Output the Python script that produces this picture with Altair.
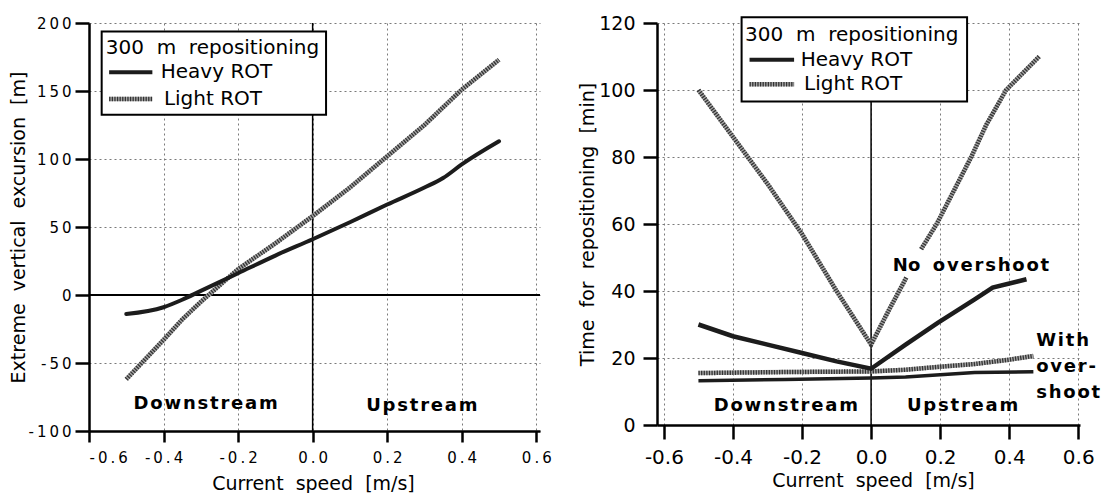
import altair as alt
import pandas as pd

FONT = "DejaVu Sans"
THIN = "\u2009"
HAIR = "\u200a"
NB = "\u00a0"

# ---------------- data: left panel (extreme vertical excursion, m) ----------------
ev_speed_heavy = [-0.5, -0.4, -0.35, -0.3, -0.2, -0.1, 0.0, 0.1, 0.2, 0.3, 0.35, 0.4, 0.5]
ev_heavy = [-14, -9, -3.5, 3, 16, 29, 41, 53.5, 66.5, 79, 86, 96, 113]
ev_speed_light = [-0.5, -0.4, -0.35, -0.3, -0.2, -0.1, 0.0, 0.1, 0.2, 0.3, 0.4, 0.5]
ev_light = [-62, -33, -18, -5, 19, 38, 58, 79, 102, 125, 151, 173]

# ---------------- data: right panel (time for repositioning, min) ----------------
tr_speed_heavy_no = [-0.5, -0.4, -0.3, -0.2, -0.1, 0.0, 0.1, 0.193, 0.3, 0.352, 0.45]
tr_heavy_no = [30, 26.5, 24, 21.5, 19, 16.8, 24, 30.5, 37.5, 41, 43.5]
tr_speed_light_no_a = [-0.5, -0.4, -0.3, -0.2, -0.1, 0.0, 0.05, 0.102]
tr_light_no_a = [100, 86, 72, 57, 40, 24, 34, 44]
tr_speed_light_no_b = [0.145, 0.19, 0.29, 0.333, 0.391, 0.487]
tr_light_no_b = [52.5, 60, 80, 89.5, 100, 110]
tr_speed_heavy_with = [-0.5, -0.25, 0.0, 0.1, 0.2, 0.3, 0.47]
tr_heavy_with = [13.2, 13.6, 14.0, 14.3, 15.0, 15.7, 15.9]
tr_speed_light_with = [-0.5, -0.25, 0.0, 0.1, 0.2, 0.3, 0.4, 0.47]
tr_light_with = [15.5, 15.8, 16.0, 16.5, 17.4, 18.2, 19.5, 20.6]

x_ticks = [-0.6, -0.4, -0.2, 0.0, 0.2, 0.4, 0.6]
ev_ticks = [-100, -50, 0, 50, 100, 150, 200]
tr_ticks = [0, 20, 40, 60, 80, 100, 120]

legend_title = f"300{NB}{NB}m{NB}{NB}repositioning"
legend_heavy = "Heavy ROT"
legend_light = "Light ROT"


def spaced(s, sep=HAIR):
    return sep.join(s)


# ---------------- tables ----------------
ev_heavy_df = pd.DataFrame({"speed": ev_speed_heavy, "value": ev_heavy})
ev_light_df = pd.DataFrame({"speed": ev_speed_light, "value": ev_light})

tr_heavy_no_df = pd.DataFrame({"speed": tr_speed_heavy_no, "value": tr_heavy_no})
tr_light_no_df = pd.concat([
    pd.DataFrame({"speed": tr_speed_light_no_a, "value": tr_light_no_a, "seg": "a"}),
    pd.DataFrame({"speed": tr_speed_light_no_b, "value": tr_light_no_b, "seg": "b"}),
])
tr_heavy_with_df = pd.DataFrame({"speed": tr_speed_heavy_with, "value": tr_heavy_with})
tr_light_with_df = pd.DataFrame({"speed": tr_speed_light_with, "value": tr_light_with})

# annotation text (positions in data units)
ev_notes = pd.DataFrame({
    "speed": [-0.287, 0.293],
    "value": [-80.5, -81.5],
    "label": [spaced("Downstream"), spaced("Upstream")],
})
tr_notes_c = pd.DataFrame({
    "speed": [-0.247, 0.265],
    "value": [5.8, 5.8],
    "label": [spaced("Downstream"), spaced("Upstream")],
})
tr_notes_l = pd.DataFrame({
    "speed": [0.063, 0.478, 0.478, 0.478],
    "value": [47.4, 25.0, 17.2, 9.6],
    "label": [f"No{NB}{NB}{spaced('overshoot')}", spaced("With"), spaced("over-"), spaced("shoot")],
})

HEAVY = "#1c1c1c"
LIGHT_BASE = "#a8a8a8"
LIGHT_DOT = "#333333"


def axis_common(**kw):
    base = dict(
        grid=True, gridColor="#7a7a7a", gridDash=[2, 3], gridWidth=1,
        domainColor="black", domainWidth=2.5, tickColor="black", tickWidth=2.5,
        labelColor="black", labelFont=FONT, titleFont=FONT, titleColor="black",
        titleFontWeight="normal", titleFontSize=19, titleBaseline="middle",
    )
    base.update(kw)
    return alt.Axis(**base)


# ================= LEFT PANEL =================
LW, LH = 451, 408
lx_scale = alt.Scale(domain=[-0.6, 0.61], nice=False, zero=False)
ly_scale = alt.Scale(domain=[-100, 200], nice=False, zero=False)

lx_axis = axis_common(
    values=x_ticks, tickSize=11, labelFontSize=15, labelPadding=8,
    labelExpr=f"join(split(replace(format(datum.value, '.1f'), '\u2212', '-'), ''), '{THIN}')",
    title=f"Current{NB}{NB}speed{NB}{NB}[m/s]", titleX=224, titleY=52,
)
ly_axis = axis_common(
    values=ev_ticks, tickSize=14, labelFontSize=15, labelPadding=4,
    labelExpr=f"join(split(replace(format(datum.value, 'd'), '\u2212', '-'), ''), '{THIN}')",
    title=f"Extreme{NB}{NB}vertical{NB}{NB}excursion{NB}{NB}[m]", titleX=-71, titleY=LH / 2,
)


def LX(field=None, datum=None):
    if datum is not None:
        return alt.X(datum=datum, scale=lx_scale, axis=lx_axis)
    return alt.X(field, type="quantitative", scale=lx_scale, axis=lx_axis)


def LY(field=None, datum=None):
    if datum is not None:
        return alt.Y(datum=datum, scale=ly_scale, axis=ly_axis)
    return alt.Y(field, type="quantitative", scale=ly_scale, axis=ly_axis)


one = pd.DataFrame({"k": [0]})

left_zero_h = alt.Chart(one).mark_rule(color="black", strokeWidth=2).encode(y=LY(datum=0))
left_zero_v = alt.Chart(one).mark_rule(color="black", strokeWidth=1.5).encode(x=LX(datum=0))
left_light_base = alt.Chart(ev_light_df).mark_line(color=LIGHT_BASE, strokeWidth=4.5).encode(
    x=LX("speed"), y=LY("value"))
left_light_dot = alt.Chart(ev_light_df).mark_line(color=LIGHT_DOT, strokeWidth=4.5, strokeDash=[1.3, 1.3]).encode(
    x=LX("speed"), y=LY("value"))
left_heavy = alt.Chart(ev_heavy_df).mark_line(color=HEAVY, strokeWidth=4, strokeCap="round",
                                               interpolate="monotone").encode(
    x=LX("speed"), y=LY("value"))
left_notes = alt.Chart(ev_notes).mark_text(font=FONT, fontSize=18, fontWeight="bold", color="black",
                                           align="center", baseline="middle").encode(
    x=LX("speed"), y=LY("value"), text="label:N")


def legend_layers(X, Y, box, title_pos, heavy_pos, light_pos, line_x):
    layers = []
    layers.append(alt.Chart(one).mark_rect(fill="white", stroke="black", strokeWidth=2).encode(
        x=X(datum=box[0]), x2=alt.datum(box[1]), y=Y(datum=box[2]), y2=alt.datum(box[3]),
    ))
    for (px, py, t) in [(title_pos[0], title_pos[1], legend_title),
                        (heavy_pos[0], heavy_pos[1], legend_heavy),
                        (light_pos[0], light_pos[1], legend_light)]:
        layers.append(alt.Chart(one).mark_text(font=FONT, fontSize=20, color="black", align="left",
                                               baseline="middle").encode(
            x=X(datum=px), y=Y(datum=py), text=alt.value(t),
        ))
    layers.append(alt.Chart(one).mark_rule(color=HEAVY, strokeWidth=4).encode(
        x=X(datum=line_x[0]), x2=alt.datum(line_x[1]), y=Y(datum=heavy_pos[1]),
    ))
    layers.append(alt.Chart(one).mark_rule(color=LIGHT_BASE, strokeWidth=4.5).encode(
        x=X(datum=line_x[0]), x2=alt.datum(line_x[1]), y=Y(datum=light_pos[1]),
    ))
    layers.append(alt.Chart(one).mark_rule(color=LIGHT_DOT, strokeWidth=4.5, strokeDash=[1.3, 1.3]).encode(
        x=X(datum=line_x[0]), x2=alt.datum(line_x[1]), y=Y(datum=light_pos[1]),
    ))
    return layers


left_legend = legend_layers(
    LX, LY,
    box=(-0.566, 0.036, 193.8, 132.6),
    title_pos=(-0.555, 181.6), heavy_pos=(-0.4075, 163.7), light_pos=(-0.399, 144.2),
    line_x=(-0.546, -0.430),
)

left = alt.layer(
    left_zero_h, left_zero_v, left_light_base, left_light_dot, left_heavy,
    left_notes, *left_legend,
).properties(width=LW, height=LH)

# ================= RIGHT PANEL =================
RW, RH = 423, 402
rx_scale = alt.Scale(domain=[-0.62, 0.605], nice=False, zero=False)
ry_scale = alt.Scale(domain=[0, 120], nice=False, zero=False)

rx_axis = axis_common(
    values=x_ticks, tickSize=14, labelFontSize=20, labelPadding=8,
    labelExpr="replace(format(datum.value, '.1f'), '\u2212', '-')",
    title=f"Current{NB}{NB}speed{NB}{NB}[m/s]", titleX=216, titleY=55,
)
ry_axis = axis_common(
    values=tr_ticks, tickSize=14, labelFontSize=19, labelPadding=8,
    labelExpr="format(datum.value, 'd')",
    title=f"Time{NB}{NB}for{NB}{NB}repositioning{NB}{NB}[min]", titleX=-70, titleY=RH / 2,
)


def RX(field=None, datum=None):
    if datum is not None:
        return alt.X(datum=datum, scale=rx_scale, axis=rx_axis)
    return alt.X(field, type="quantitative", scale=rx_scale, axis=rx_axis)


def RY(field=None, datum=None):
    if datum is not None:
        return alt.Y(datum=datum, scale=ry_scale, axis=ry_axis)
    return alt.Y(field, type="quantitative", scale=ry_scale, axis=ry_axis)


right_zero_v = alt.Chart(one).mark_rule(color="black", strokeWidth=1.5).encode(x=RX(datum=0))


def rline(df, color, width, dash=None, detail=None):
    kw = dict(color=color, strokeWidth=width)
    if dash:
        kw["strokeDash"] = dash
    enc = dict(x=RX("speed"), y=RY("value"))
    if detail:
        enc["detail"] = detail
    return alt.Chart(df).mark_line(**kw).encode(**enc)


right_notes_c = alt.Chart(tr_notes_c).mark_text(font=FONT, fontSize=18, fontWeight="bold", color="black",
                                                align="center", baseline="middle").encode(
    x=RX("speed"), y=RY("value"), text="label:N")
right_notes_l = alt.Chart(tr_notes_l).mark_text(font=FONT, fontSize=18, fontWeight="bold", color="black",
                                                align="left", baseline="middle").encode(
    x=RX("speed"), y=RY("value"), text="label:N")

right_legend = legend_layers(
    RX, RY,
    box=(-0.375, 0.278, 121.7, 96.6),
    title_pos=(-0.365, 116.5), heavy_pos=(-0.204, 109.0), light_pos=(-0.194, 101.7),
    line_x=(-0.352, -0.223),
)

right = alt.layer(
    right_zero_v,
    rline(tr_heavy_with_df, HEAVY, 3.5),
    rline(tr_light_with_df, LIGHT_BASE, 4.5), rline(tr_light_with_df, LIGHT_DOT, 4.5, [1.3, 1.3]),
    rline(tr_light_no_df, LIGHT_BASE, 4.5, detail="seg:N"),
    rline(tr_light_no_df, LIGHT_DOT, 4.5, [1.3, 1.3], detail="seg:N"),
    rline(tr_heavy_no_df, HEAVY, 4.5),
    right_notes_c, right_notes_l, *right_legend,
).properties(width=RW, height=RH)

chart = alt.hconcat(left, right, spacing=26).properties(
    padding={"left": 9, "top": 14, "right": 0, "bottom": 0},
    background="white",
).configure_view(stroke=None)

chart.save("out.html", embed_options={"renderer": "svg", "actions": False})
